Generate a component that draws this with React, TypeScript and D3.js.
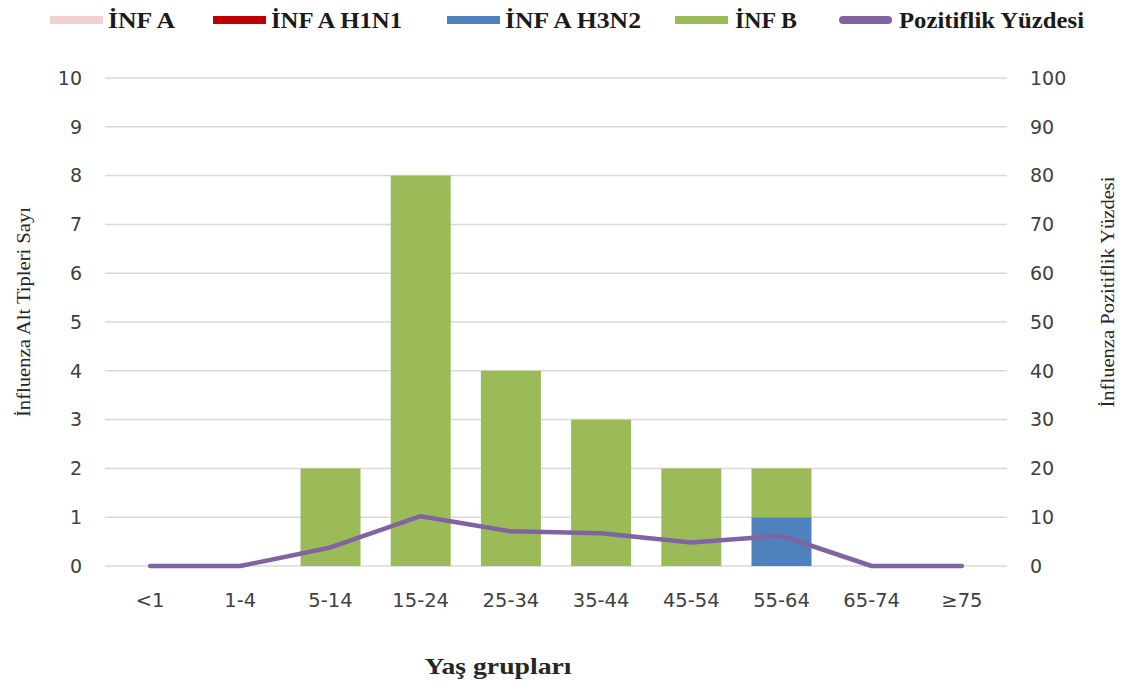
import React from "react";
import * as d3 from "d3";

const categories = ["<1", "1-4", "5-14", "15-24", "25-34", "35-44", "45-54", "55-64", "65-74", "≥75"];
const infA = [0, 0, 0, 0, 0, 0, 0, 0, 0, 0];
const infAH1N1 = [0, 0, 0, 0, 0, 0, 0, 0, 0, 0];
const infAH3N2 = [0, 0, 0, 0, 0, 0, 0, 1, 0, 0];
const infB = [0, 0, 2, 8, 4, 3, 2, 1, 0, 0];
const positivity = [0, 0, 3.8, 10.2, 7.1, 6.7, 4.8, 6.2, 0, 0];
const leftTicks = [0, 1, 2, 3, 4, 5, 6, 7, 8, 9, 10];
const rightTicks = [0, 10, 20, 30, 40, 50, 60, 70, 80, 90, 100];

const seriesNames = ["İNF A", "İNF A H1N1", "İNF A H3N2", "İNF B"];
const seriesColors = ["#F2D0D0", "#C00000", "#4F81BD", "#9BBB59"];
const lineName = "Pozitiflik Yüzdesi";
const lineColor = "#8064A2";

const W = 1126;
const H = 681;
const left = 105;
const right = 1007;
const top = 78;
const bottom = 566;

export default function App() {
  const x = d3.scaleBand<string>().domain(categories).range([left, right]).paddingInner(0.335).paddingOuter(0.1675);
  const yL = d3.scaleLinear().domain([0, 10]).range([bottom, top]);
  const yR = d3.scaleLinear().domain([0, 100]).range([bottom, top]);

  const rows = categories.map((c, i) => ({
    cat: c,
    a: infA[i],
    h1: infAH1N1[i],
    h3: infAH3N2[i],
    b: infB[i],
  }));
  const stack = d3.stack<any>().keys(["a", "h1", "h3", "b"])(rows);

  const line = d3
    .line<number>()
    .x((_, i) => (x(categories[i]) as number) + x.bandwidth() / 2)
    .y((d) => yR(d));

  const legendItems = [
    { name: seriesNames[0], color: seriesColors[0], sx: 50, tx: 108, tl: 67 },
    { name: seriesNames[1], color: seriesColors[1], sx: 213, tx: 271, tl: 131 },
    { name: seriesNames[2], color: seriesColors[2], sx: 447, tx: 505, tl: 136 },
    { name: seriesNames[3], color: seriesColors[3], sx: 675, tx: 735, tl: 62 },
    { name: lineName, color: lineColor, sx: 839, tx: 899, tl: 185 },
  ];

  const tickFont = "'DejaVu Sans', sans-serif";
  const serif = "'Liberation Serif', 'Times New Roman', serif";

  return (
    <svg width={W} height={H} style={{ position: "absolute", left: 0, top: 0, background: "#fff" }}>
      <rect width={W} height={H} fill="#fff" />
      {leftTicks.map((t) => (
        <line key={t} x1={left} x2={right} y1={yL(t)} y2={yL(t)} stroke="#D9D9D9" strokeWidth={1.5} />
      ))}
      {stack.map((s, si) =>
        s.map((d, i) =>
          d[1] - d[0] > 0 ? (
            <rect
              key={`${si}-${i}`}
              x={x(categories[i])}
              width={x.bandwidth()}
              y={yL(d[1])}
              height={yL(d[0]) - yL(d[1])}
              fill={seriesColors[si]}
            />
          ) : null
        )
      )}
      <path d={line(positivity) || ""} fill="none" stroke={lineColor} strokeWidth={4.5} strokeLinejoin="round" strokeLinecap="round" />
      {leftTicks.map((t) => (
        <text key={t} x={82} y={yL(t)} dy="0.36em" textAnchor="end" fontFamily={tickFont} fontSize={19} fill="#404040">
          {t}
        </text>
      ))}
      {rightTicks.map((t) => (
        <text key={t} x={1030} y={yR(t)} dy="0.36em" textAnchor="start" fontFamily={tickFont} fontSize={19} fill="#404040">
          {t}
        </text>
      ))}
      {categories.map((c) => (
        <text
          key={c}
          x={(x(c) as number) + x.bandwidth() / 2}
          y={600}
          dy="0.36em"
          textAnchor="middle"
          fontFamily={tickFont}
          fontSize={19.5}
          fill="#404040"
        >
          {c}
        </text>
      ))}
      <text
        transform={`translate(30,312) rotate(-90)`}
        textAnchor="middle"
        fontFamily={serif}
        fontSize={18}
        textLength={210}
        lengthAdjust="spacingAndGlyphs"
        fill="#262626"
      >
        İnfluenza Alt Tipleri Sayı
      </text>
      <text
        transform={`translate(1114,292) rotate(-90)`}
        textAnchor="middle"
        fontFamily={serif}
        fontSize={18}
        textLength={231}
        lengthAdjust="spacingAndGlyphs"
        fill="#262626"
      >
        İnfluenza Pozitiflik Yüzdesi
      </text>
      <text
        x={498}
        y={674}
        textAnchor="middle"
        fontFamily={serif}
        fontSize={23}
        fontWeight="bold"
        textLength={147}
        lengthAdjust="spacingAndGlyphs"
        fill="#262626"
      >
        Yaş grupları
      </text>
      {legendItems.map((l) => (
        <g key={l.name}>
          <rect x={l.sx} y={16} width={53} height={8} fill={l.color} rx={l.name === lineName ? 4 : 0} />
          <text
            x={l.tx}
            y={28}
            fontFamily={serif}
            fontSize={23}
            fontWeight="bold"
            textLength={l.tl}
            lengthAdjust="spacingAndGlyphs"
            fill="#1a1a1a"
          >
            {l.name}
          </text>
        </g>
      ))}
    </svg>
  );
}
